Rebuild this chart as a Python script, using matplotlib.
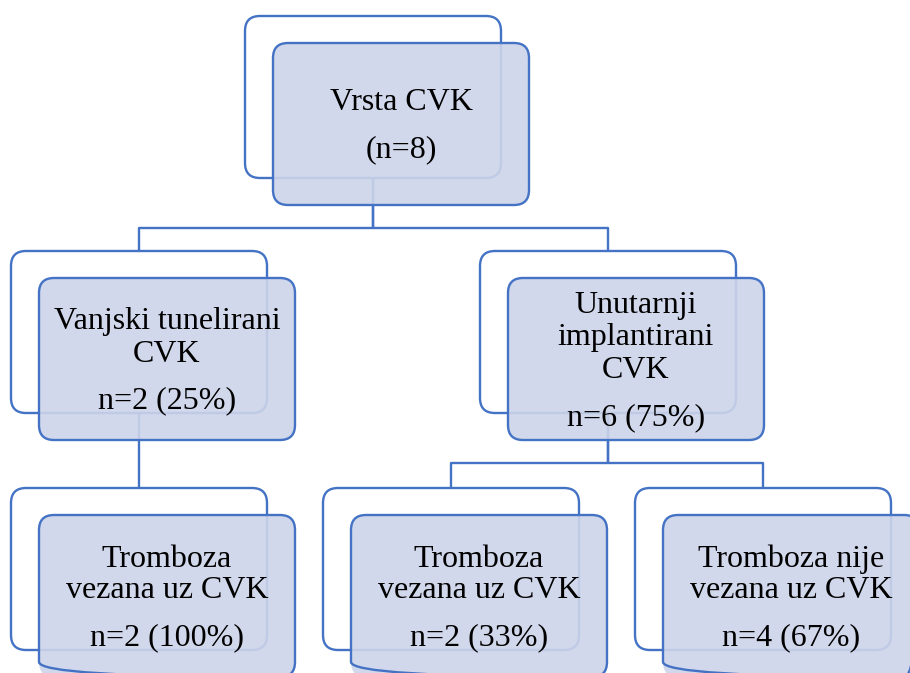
import matplotlib.pyplot as plt
from matplotlib.patches import FancyBboxPatch

# node data
labels = [
    ['Vrsta CVK'],
    ['Vanjski tunelirani', 'CVK'],
    ['Unutarnji', 'implantirani', 'CVK'],
    ['Tromboza', 'vezana uz CVK'],
    ['Tromboza', 'vezana uz CVK'],
    ['Tromboza nije', 'vezana uz CVK'],
]
counts = ['(n=8)', 'n=2 (25%)', 'n=6 (75%)', 'n=2 (100%)', 'n=2 (33%)', 'n=4 (67%)']
parents = [None, 0, 0, 1, 2, 2]

# layout (pixel coords, y down): front box left/top, baselines of text lines
box_w, box_h = 256, 162
front_xy = [(273, 43), (39, 278), (508, 278), (39, 515), (351, 515), (663, 515)]
baselines = [
    [110, 157],
    [329, 362, 408],
    [313, 345, 378, 425],
    [567, 598, 645],
    [567, 598, 645],
    [567, 598, 645],
]
branch_y = {0: 228, 2: 463}
offset = (28, 27)  # back box is shifted up-left by this
edge = '#4472C4'
fill = '#CDD4E9'
lw = 1.7

fig = plt.figure(figsize=(9.1, 6.73), dpi=100)
ax = fig.add_axes([0, 0, 1, 1])
ax.set_xlim(0, 910)
ax.set_ylim(673, 0)
ax.axis('off')


def rbox(x, y, **kw):
    p = FancyBboxPatch((x, y), box_w, box_h,
                       boxstyle='round,pad=0,rounding_size=15',
                       edgecolor=edge, linewidth=lw, **kw)
    ax.add_patch(p)


# back boxes
for (x, y) in front_xy:
    rbox(x - offset[0], y - offset[1], facecolor='white', zorder=1)

# connectors: from bottom of parent back box to top of child back box
for i, p in enumerate(parents):
    if p is None:
        continue
    px = front_xy[p][0] - offset[0] + box_w / 2
    py_top = front_xy[p][1] - offset[1] + box_h
    cx = front_xy[i][0] - offset[0] + box_w / 2
    cy = front_xy[i][1] - offset[1]
    if p in branch_y:
        ymid = branch_y[p]
        ax.plot([px, px, cx, cx], [py_top, ymid, ymid, cy], color=edge,
                lw=lw, zorder=2, solid_capstyle='butt')
    else:
        ax.plot([cx, cx], [py_top, cy], color=edge, lw=lw, zorder=2,
                solid_capstyle='butt')

# front boxes (semi-transparent fill, solid edge)
for (x, y) in front_xy:
    p = FancyBboxPatch((x, y), box_w, box_h,
                       boxstyle='round,pad=0,rounding_size=15',
                       edgecolor='none', facecolor=fill, alpha=0.9, zorder=3)
    ax.add_patch(p)
    rbox(x, y, facecolor='none', zorder=4)

# text
for i, (x, y) in enumerate(front_xy):
    lines = labels[i] + [counts[i]]
    cx = x + box_w / 2
    for txt, b in zip(lines, baselines[i]):
        ax.text(cx, b, txt, ha='center', va='baseline', fontsize=23,
                family='Liberation Serif', color='black', zorder=5)

fig.savefig('out.png', dpi=100)
